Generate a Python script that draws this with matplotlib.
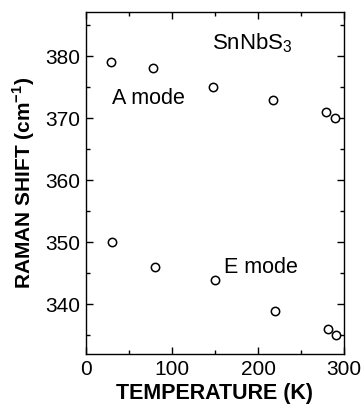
import matplotlib
matplotlib.use("Agg")
import matplotlib.pyplot as plt
from matplotlib.ticker import MultipleLocator

plt.rcParams['font.family'] = ['Liberation Sans', 'DejaVu Sans']
plt.rcParams['mathtext.fontset'] = 'custom'
plt.rcParams['mathtext.rm'] = 'Liberation Sans'
plt.rcParams['mathtext.bf'] = 'Liberation Sans:bold'

# temperatures (K) and Raman shifts (cm^-1)
temp_a = [29, 78, 148, 218, 279, 289]
shift_a = [379, 378, 375, 373, 371, 370]
temp_e = [30, 80, 150, 220, 281, 291]
shift_e = [350, 346, 344, 339, 336, 335]

fig = plt.figure(figsize=(3.63, 4.07), dpi=100)
ax = fig.add_axes([86 / 363, 1 - 354 / 407, 258 / 363, 342 / 407])

for t, s in ((temp_a, shift_a), (temp_e, shift_e)):
    ax.plot(t, s, 'o', ms=6, mfc='white', mec='black', mew=1.1, ls='none')

ax.set_xlim(0, 300)
ax.set_ylim(332, 387.1)
ax.xaxis.set_major_locator(MultipleLocator(100))
ax.xaxis.set_minor_locator(MultipleLocator(50))
ax.yaxis.set_major_locator(MultipleLocator(10))
ax.yaxis.set_minor_locator(MultipleLocator(5))
ax.tick_params(which='both', direction='in', top=True, right=True, labelsize=15, width=1)
ax.tick_params(which='major', length=5, pad=4)
ax.tick_params(which='minor', length=3)
for sp in ax.spines.values():
    sp.set_linewidth(1.0)

ax.set_xlabel('TEMPERATURE (K)', fontsize=15.5, fontweight='bold', labelpad=3)
ax.set_ylabel(r'RAMAN SHIFT (cm$^{\mathbf{-1}}$)', fontsize=15, fontweight='bold', labelpad=6)

ax.text(147, 382, r'SnNbS$_3$', fontsize=16, va='center', ha='left')
ax.text(30, 373.2, 'A mode', fontsize=15.5, va='center', ha='left')
ax.text(160, 346, 'E mode', fontsize=15.5, va='center', ha='left')

fig.savefig('out.png', dpi=100)
